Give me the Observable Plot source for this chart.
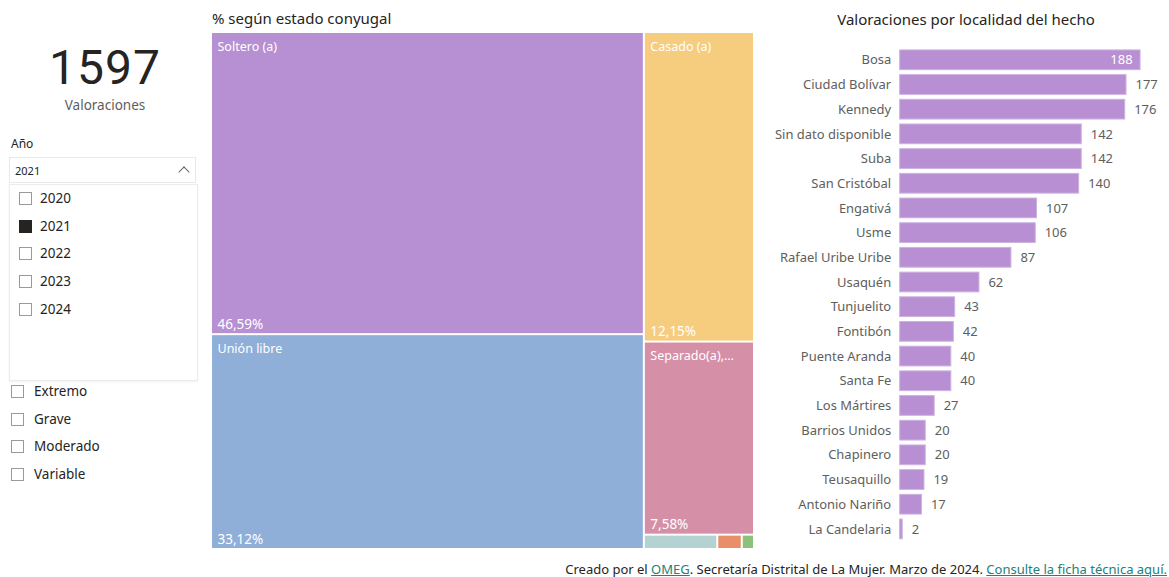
<!DOCTYPE html>
<html><head><meta charset="utf-8">
<script src="https://cdn.jsdelivr.net/npm/d3@7"></script>
<script src="https://cdn.jsdelivr.net/npm/@observablehq/plot@0.6"></script>
<style>
body{margin:0;background:#fff;font-family:"Noto Sans",sans-serif;color:#252423;}
#root{position:relative;width:1169px;height:577px;overflow:hidden;background:#fff;}
.abs{position:absolute;}
.kpi{left:0;width:210px;top:38px;text-align:center;font-family:Roboto,sans-serif;font-size:48px;line-height:60px;letter-spacing:1px;color:#252423;}
.kpil{left:0;width:210px;top:96px;text-align:center;font-size:13.5px;color:#605E5C;}
.lbl{font-size:12px;}
.dd{left:9px;top:157px;width:187px;height:26px;border:1px solid #e8e8e8;box-sizing:border-box;font-size:11px;line-height:26px;padding-left:5px;}
.chev{position:absolute;right:7px;top:10px;width:7px;height:7px;border-left:1.3px solid #666;border-top:1.3px solid #666;transform:rotate(45deg);}
.list{left:9px;top:184px;width:189px;height:197px;border:1px solid #ececec;box-sizing:border-box;box-shadow:0 1px 2px rgba(0,0,0,0.06);}
.item{position:absolute;font-size:13.5px;color:#252423;line-height:18px;}
.cb{position:absolute;width:13px;height:13px;border:1px solid #9a9a9a;box-sizing:border-box;background:#fff;}
.cb.on{background:#252423;border-color:#252423;}
.title{font-size:15px;color:#252423;}
.cap{right:2px;top:560px;font-size:13px;color:#252423;white-space:nowrap;}
.cap a{color:#21807b;text-decoration:underline;}
</style></head><body><div id="root">
<div class="abs kpi" id="kpi"></div>
<div class="abs kpil">Valoraciones</div>
<div class="abs lbl" style="left:11px;top:135px;">Año</div>
<div class="abs dd" id="dd"><span id="ddv"></span><span class="chev"></span></div>
<div class="abs list" id="list"></div>
<div id="sev"></div>
<div class="abs title" style="left:212px;top:8px;">% según estado conyugal</div>
<div class="abs" id="tree" style="left:212px;top:33px;"></div>
<div class="abs title" style="left:766px;width:400px;top:9px;text-align:center;">Valoraciones por localidad del hecho</div>
<div class="abs" id="bars" style="left:770px;top:35px;"></div>
<div class="abs cap">Creado por el <a>OMEG</a>. Secretaría Distrital de La Mujer. Marzo de 2024. <a>Consulte la ficha técnica aquí.</a></div>
</div>
<script>
// ---- Data ----
const totalValoraciones = 1597;
const anios = [2020, 2021, 2022, 2023, 2024];
const anioSeleccionado = 2021;
const severidades = ["Extremo", "Grave", "Moderado", "Variable"];

const estados = ["Soltero (a)", "Unión libre", "Casado (a)", "Separado(a), divorciado(a)", "Viudo (a)", "Sin dato", "Otro"];
const conteosEstado = [744, 529, 194, 121, 6, 2, 1];
const porcentajesEstado = ["46,59%", "33,12%", "12,15%", "7,58%", "0,38%", "0,13%", "0,06%"];
const coloresEstado = ["#B78FD3", "#8FAFD9", "#F6CC7E", "#D590A8", "#B5D2D3", "#E88F6A", "#8CC17B"];

const localidades = ["Bosa", "Ciudad Bolívar", "Kennedy", "Sin dato disponible", "Suba", "San Cristóbal", "Engativá", "Usme", "Rafael Uribe Uribe", "Usaquén", "Tunjuelito", "Fontibón", "Puente Aranda", "Santa Fe", "Los Mártires", "Barrios Unidos", "Chapinero", "Teusaquillo", "Antonio Nariño", "La Candelaria"];
const valoraciones = [188, 177, 176, 142, 142, 140, 107, 106, 87, 62, 43, 42, 40, 40, 27, 20, 20, 19, 17, 2];
const colorBarra = "#B88FD3";

// ---- Left panel ----
document.getElementById("kpi").textContent = String(totalValoraciones);
document.getElementById("ddv").textContent = String(anioSeleccionado);
const list = document.getElementById("list");
anios.forEach((a, i) => {
  const cb = document.createElement("div");
  cb.className = "cb" + (a === anioSeleccionado ? " on" : "");
  cb.style.left = "9px"; cb.style.top = (7 + i * 27.7) + "px";
  list.appendChild(cb);
  const t = document.createElement("div");
  t.className = "item"; t.textContent = a;
  t.style.left = "30px"; t.style.top = (4 + i * 27.7) + "px";
  list.appendChild(t);
});
const sev = document.getElementById("sev");
severidades.forEach((s, i) => {
  const cb = document.createElement("div");
  cb.className = "abs cb";
  cb.style.left = "11px"; cb.style.top = (385 + i * 27.7) + "px";
  sev.appendChild(cb);
  const t = document.createElement("div");
  t.className = "abs item"; t.textContent = s;
  t.style.left = "34px"; t.style.top = (382 + i * 27.7) + "px";
  sev.appendChild(t);
});

// ---- Treemap ----
const TW = 541, TH = 515;
const estadoData = estados.map((e, i) => ({name: e, value: conteosEstado[i], pct: porcentajesEstado[i], color: coloresEstado[i]}));
const root = d3.hierarchy({children: estadoData}).sum(d => d.value || 0).sort((a, b) => b.value - a.value);
d3.treemap().size([TW, TH]).tile(d3.treemapSquarify).paddingInner(2).round(false)(root);
const cells = root.leaves().map(l => ({...l.data, x0: l.x0, x1: l.x1, y0: l.y0, y1: l.y1}));
const big = cells.filter(c => (c.y1 - c.y0) > 40);

const tree = Plot.plot({
  width: TW, height: TH, margin: 0,
  x: {domain: [0, TW], range: [0, TW], axis: null},
  y: {domain: [0, TH], range: [0, TH], axis: null},
  style: {fontFamily: '"Noto Sans", sans-serif', background: "transparent"},
  marks: [
    Plot.rect(cells, {x1: "x0", x2: "x1", y1: "y0", y2: "y1", fill: d => d.color}),
    Plot.text(big, {x: d => d.x0 + 5, y: d => d.y0 + 13, text: "name", textAnchor: "start", lineAnchor: "middle",
      fill: "white", fontSize: 12.5, lineWidth: 7.6, textOverflow: "ellipsis"}),
    Plot.text(big, {x: d => d.x0 + 5, y: d => d.y1 - 9, text: "pct", textAnchor: "start", lineAnchor: "middle",
      fill: "white", fontSize: 13.5})
  ]
});
document.getElementById("tree").appendChild(tree);

// ---- Bars ----
const locData = localidades.map((l, i) => ({loc: l, v: valoraciones[i]}));
const vmax = d3.max(valoraciones);
const bars = Plot.plot({
  width: 400, height: 520,
  marginLeft: 130, marginRight: 29, marginTop: 10, marginBottom: 10,
  x: {domain: [0, vmax], axis: null},
  y: {domain: localidades, padding: 0.2, round: false, label: null},
  style: {fontFamily: '"Noto Sans", sans-serif', fontSize: "13px", color: "#605E5C", background: "transparent"},
  marks: [
    Plot.axisY({tickSize: 0, tickPadding: 9, fontSize: 13, fill: "#605E5C", label: null}),
    Plot.barX(locData, {x: "v", y: "loc", fill: colorBarra, stroke: "#CDB2E2", strokeWidth: 1}),
    Plot.text(locData.filter(d => d.v < vmax), {x: "v", y: "loc", text: d => String(d.v), dx: 9, textAnchor: "start", fill: "#605E5C", fontSize: 13}),
    Plot.text(locData.filter(d => d.v === vmax), {x: "v", y: "loc", text: d => String(d.v), dx: -8, textAnchor: "end", fill: "white", fontSize: 13})
  ]
});
document.getElementById("bars").appendChild(bars);
</script>
</body></html>
